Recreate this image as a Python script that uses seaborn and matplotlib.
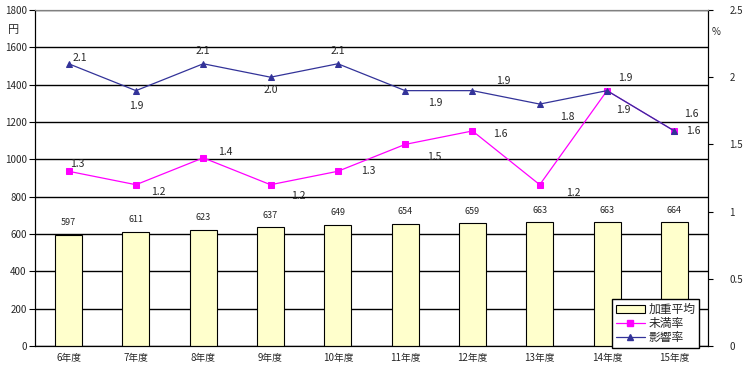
import numpy as np
import pandas as pd
import seaborn as sns
import matplotlib.pyplot as plt
from matplotlib.lines import Line2D
from matplotlib.patches import Patch

years = ['6年度', '7年度', '8年度', '9年度', '10年度', '11年度', '12年度', '13年度', '14年度', '15年度']
heikin = [597, 611, 623, 637, 649, 654, 659, 663, 663, 664]
miman = [1.3, 1.2, 1.4, 1.2, 1.3, 1.5, 1.6, 1.2, 1.9, 1.6]
eikyo = [2.1, 1.9, 2.1, 2.0, 2.1, 1.9, 1.9, 1.8, 1.9, 1.6]

# label offsets in points (dx, dy)
miman_off = [(6, 5), (16, -5), (16, 4), (20, -8), (22, 0), (21, -9), (20, -2), (24, -6), (12, -14), (14, 0)]
eikyo_off = [(8, 4), (0, -11), (0, 9), (0, -9), (0, 9), (22, -9), (22, 7), (20, -9), (13, 9), (12, 12)]

df = pd.DataFrame({'年度': years, '加重平均': heikin, '未満率': miman, '影響率': eikyo})
df['pos'] = np.arange(len(df))

sns.set_style('white')
plt.rcParams['font.family'] = ['Noto Sans CJK JP', 'DejaVu Sans']

fig = plt.figure(figsize=(7.47, 3.68), dpi=100)
ax = fig.add_axes([35 / 747, 22 / 368, 673 / 747, 336 / 368])

sns.barplot(data=df, x='年度', y='加重平均', color='#FFFFCC', edgecolor='black',
            linewidth=0.8, width=0.4, saturation=1, ax=ax, zorder=3)
ax.set_ylim(0, 1800)
ax.set_xlim(-0.5, 9.5)
ax.set_yticks(range(0, 1801, 200))
ax.grid(axis='y', color='black', linewidth=1, zorder=0)
ax.set_axisbelow(True)
for p, v in zip(df['pos'], heikin):
    ax.text(p, v + 40, str(v), ha='center', va='bottom', fontsize=6.5)
ax.set_xlabel('')
ax.set_ylabel('')
ax.set_xticks(np.arange(-0.5, 10, 1), minor=True)
ax.tick_params(axis='x', which='major', length=0, labelsize=7, pad=5)
ax.tick_params(axis='x', which='minor', length=4, direction='out', color='black')
ax.tick_params(axis='y', length=4, direction='out', labelsize=7, pad=2, color='black',
               left=True)
for s in ['left', 'bottom', 'right']:
    ax.spines[s].set_color('black')
ax.spines['top'].set_color('#808080')

ax2 = ax.twinx()
sns.lineplot(data=df, x='pos', y='未満率', color='#FF00FF', marker='s', markersize=4,
             markeredgecolor='#FF00FF', linewidth=0.9, ax=ax2, zorder=4)
sns.lineplot(data=df, x='pos', y='影響率', color='#333399', marker='^', markersize=5,
             markeredgecolor='#333399', linewidth=0.9, ax=ax2, zorder=5)
ax2.set_ylim(0, 2.5)
ax2.set_yticks([0, 0.5, 1, 1.5, 2, 2.5])
ax2.set_yticklabels(['0', '0.5', '1', '1.5', '2', '2.5'])
ax2.tick_params(axis='y', length=3.5, direction='out', labelsize=7, pad=12, color='black', right=True)
ax2.set_ylabel('')
ax2.set_xlabel('')
ax2.set_xlim(-0.5, 9.5)
ax2.grid(False)
for s in ['left', 'bottom', 'right']:
    ax2.spines[s].set_color('black')
ax2.spines['top'].set_color('#808080')

for p, v, (dx, dy) in zip(df['pos'], miman, miman_off):
    ax2.annotate(f'{v:.1f}', (p, v), xytext=(dx, dy), textcoords='offset points',
                 ha='center', va='center', fontsize=7.5)
for p, v, (dx, dy) in zip(df['pos'], eikyo, eikyo_off):
    ax2.annotate(f'{v:.1f}', (p, v), xytext=(dx, dy), textcoords='offset points',
                 ha='center', va='center', fontsize=7.5)

fig.text(14 / 747, 1 - 30 / 368, '円', ha='center', va='center', fontsize=8)
fig.text(716 / 747, 1 - 32 / 368, '%', ha='center', va='center', fontsize=7)

handles = [Patch(facecolor='#FFFFCC', edgecolor='black', linewidth=0.8),
           Line2D([], [], color='#FF00FF', marker='s', markersize=4, linewidth=0.9),
           Line2D([], [], color='#333399', marker='^', markersize=5, linewidth=0.9)]
leg = ax2.legend(handles, ['加重平均', '未満率', '影響率'], loc='lower right',
                 bbox_to_anchor=(0.987, -0.005), fontsize=8.5, frameon=True, fancybox=False,
                 edgecolor='black', framealpha=1, borderpad=0.3, labelspacing=0.1,
                 handlelength=2.5, handletextpad=0.3, borderaxespad=0)
leg.get_frame().set_linewidth(1)

fig.savefig('out.png', dpi=100)
